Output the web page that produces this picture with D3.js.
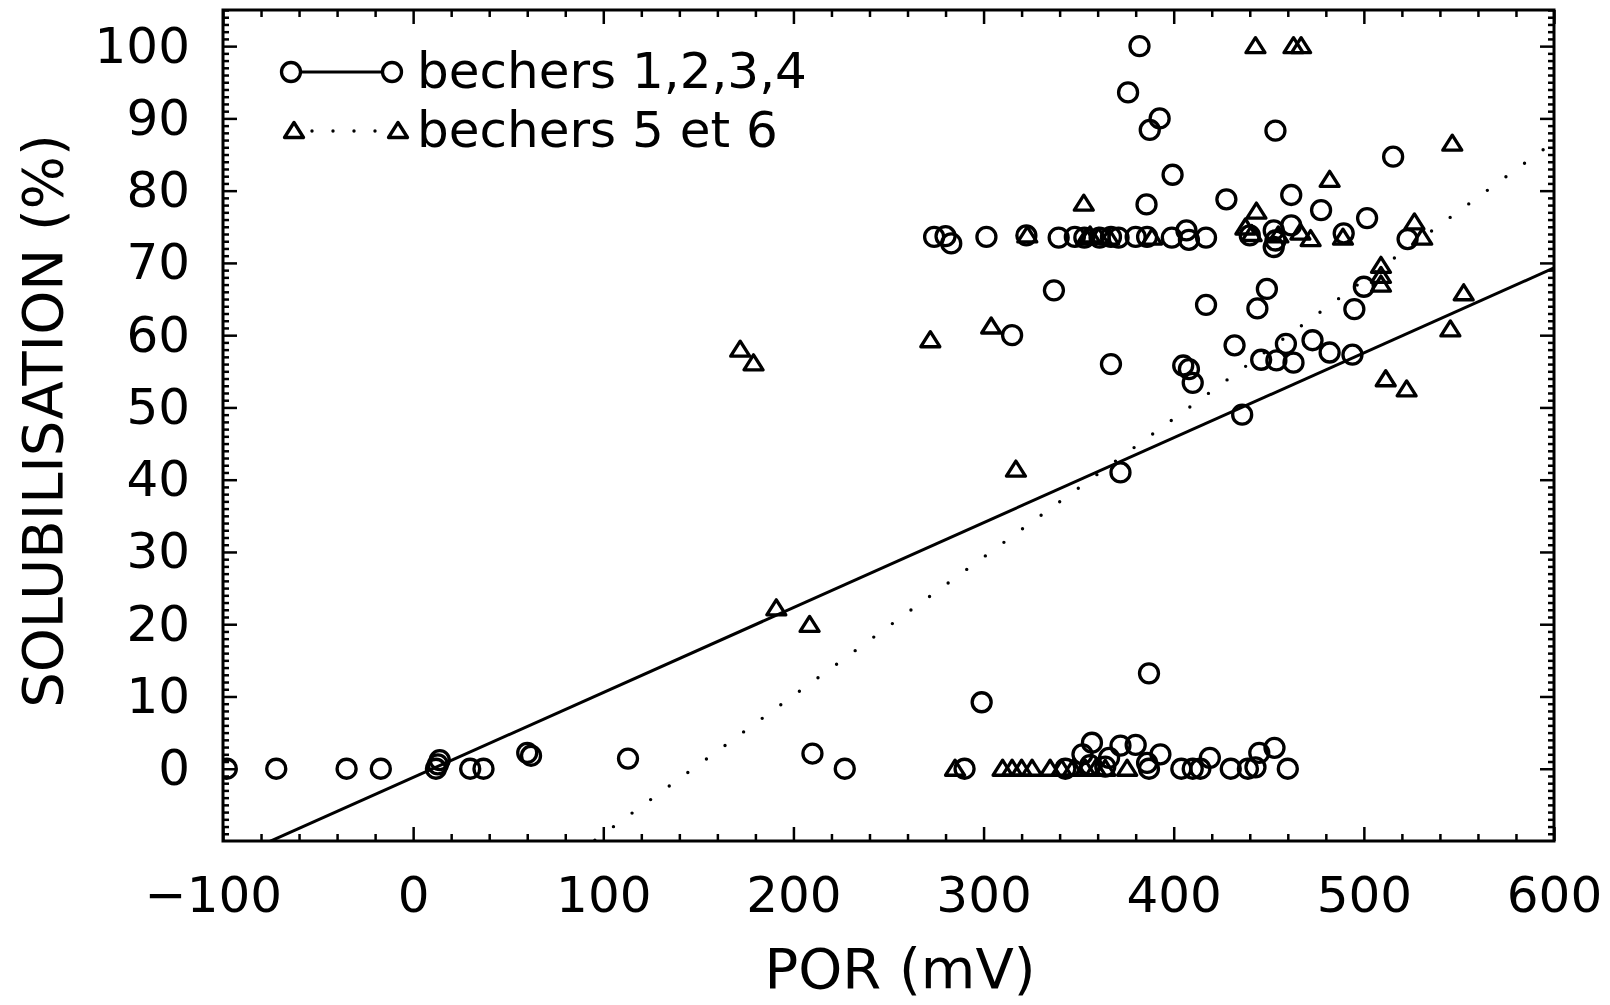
<!DOCTYPE html>
<html>
<head>
<meta charset="utf-8">
<script src="https://cdn.jsdelivr.net/npm/d3@7"></script>
<style>
  html, body { margin: 0; padding: 0; background: #fff; }
  svg { display: block; font-family: "DejaVu Sans", sans-serif; }
</style>
</head>
<body>
<div class="container"></div>
<script>
// bechers 1,2,3,4 (circles) : [POR mV, solubilisation %]
const bechers1234 = [
  [-98, 0], [-72, 0], [-35, 0], [-17, 0], [12, 0], [13, 0.6], [14, 1.2], [30, 0], [37, 0],
  [60, 2.2], [62, 1.8], [113, 1.4], [210, 2.1], [227, 0],
  [290, 0], [299, 9.2], [343, 0], [352, 2], [356, 0.5], [357, 3.6], [364, 0.3], [366, 1.5],
  [372, 3.2], [380, 3.3], [386, 0.8], [387, 13.2], [387, 0], [393, 2], [404, 0], [410, 0],
  [414, 0], [419, 1.5], [430, 0], [439, 0], [443, 0.2], [445, 2.2], [453, 2.9], [460, 0],
  [372, 41], [436, 49], [410, 53.4], [405, 55.8], [408, 55.3], [367, 56], [315, 60],
  [337, 66.2], [417, 64.2], [444, 63.7], [449, 66.4], [432, 58.6], [446, 56.6], [454, 56.5],
  [459, 58.8], [463, 56.2], [473, 59.3], [482, 57.6], [494, 57.3], [495, 63.6], [500, 66.7],
  [274, 73.6], [280, 73.7], [283, 72.7], [301.5, 73.6], [322.5, 73.8], [339.5, 73.5],
  [348, 73.6], [353, 73.5], [361, 73.5], [367, 73.6], [371, 73.5], [380, 73.6], [386, 73.6],
  [399, 73.5], [406.7, 74.5], [408, 73.2], [417, 73.5], [440, 73.8], [452.6, 74.5],
  [453.5, 73.1], [452.6, 72.2], [461.8, 75.2], [489.4, 74.1], [523, 73.3],
  [382, 100], [376, 93.6], [392.6, 90], [387.4, 88.4], [453.5, 88.3], [399.4, 82.2],
  [385.7, 78.1], [427.7, 78.8], [461.8, 79.4], [477.5, 77.3], [501.7, 76.2], [515.4, 84.7]
];
// bechers 5 et 6 (triangles)
const bechers56 = [
  [172, 58], [179, 56.1], [191, 22.2], [208.5, 19.9], [272, 59.3], [304, 61.2], [317, 41.4],
  [285, 0], [310, 0], [315, 0], [320, 0], [325.5, 0], [335, 0], [341, 0], [347, 0],
  [353.5, 0], [359, 0], [364, 0], [375.5, 0],
  [323, 73.8], [352.7, 78.2], [354, 73.5], [356, 73.8], [360.5, 73.6], [366, 73.5],
  [388.6, 73.5], [437.7, 74.9], [441, 74], [443.5, 77.1], [455, 73.8], [466.6, 74.2],
  [472, 73.3], [489, 73.5], [526.6, 75.6], [530.7, 73.5], [482, 81.5], [546.5, 86.5],
  [443, 100], [463, 100], [467, 100], [509, 69.6], [509, 68.2], [509, 67],
  [552.5, 65.8], [545.5, 60.8], [511.5, 53.9], [522.5, 52.5]
];
// regression lines [intercept, slope]
const fit1234 = [-1.2, 0.1175];
const fit56 = [-28.2, 0.1916];

const xTicks = [-100, 0, 100, 200, 300, 400, 500, 600];
const yTicks = [0, 10, 20, 30, 40, 50, 60, 70, 80, 90, 100];
const legendLabels = ["bechers 1,2,3,4", "bechers 5 et 6"];

const WIDTH = 1610, HEIGHT = 1005;
const MARGIN = { top: 10, right: 56, bottom: 164, left: 223 };
const R = 9.5;

const x = d3.scaleLinear().domain([-100, 600]).range([MARGIN.left, WIDTH - MARGIN.right]);
const y = d3.scaleLinear().domain([-10, 105]).range([HEIGHT - MARGIN.bottom, MARGIN.top]);

const svg = d3.select(".container").append("svg")
  .attr("width", WIDTH).attr("height", HEIGHT)
  .attr("viewBox", [0, 0, WIDTH, HEIGHT]);

svg.append("defs").append("clipPath").attr("id", "plot")
  .append("rect")
  .attr("x", x(-100)).attr("y", y(105))
  .attr("width", x(600) - x(-100)).attr("height", y(-10) - y(105));

// symbols
const circlePath = (cx, cy) => `M${cx + R},${cy}A${R},${R} 0 1 1 ${cx - R},${cy}A${R},${R} 0 1 1 ${cx + R},${cy}Z`;
const triPath = (cx, cy) => `M${cx},${cy - 8.5}L${cx + 9.5},${cy + 6.5}L${cx - 9.5},${cy + 6.5}Z`;

// axes
const minorY = d3.range(-10, 106, 1).filter((d) => d % 10 !== 0);
const minorX = d3.range(-100, 601, 20).filter((d) => d % 100 !== 0);

const fmtX = (d) => (d < 0 ? "\u2212" + Math.abs(d) : d);

const axes = svg.append("g")
  .attr("stroke-width", 2.5);

axes.append("g")
  .attr("transform", `translate(${x(-100)},0)`)
  .call(d3.axisLeft(y).tickValues(yTicks).tickSizeInner(-14).tickSizeOuter(0).tickPadding(33));
axes.append("g")
  .attr("transform", `translate(${x(-100)},0)`)
  .call(d3.axisLeft(y).tickValues(minorY).tickSizeInner(-6).tickSizeOuter(0).tickFormat(""));
axes.append("g")
  .attr("transform", `translate(${x(600)},0)`)
  .call(d3.axisRight(y).tickValues(yTicks).tickSizeInner(-14).tickSizeOuter(0).tickFormat(""));
axes.append("g")
  .attr("transform", `translate(${x(600)},0)`)
  .call(d3.axisRight(y).tickValues(minorY).tickSizeInner(-6).tickSizeOuter(0).tickFormat(""));

axes.append("g")
  .attr("transform", `translate(0,${y(-10)})`)
  .call(d3.axisBottom(x).tickValues(xTicks).tickSizeInner(-14).tickSizeOuter(0).tickPadding(35).tickFormat(fmtX));
axes.append("g")
  .attr("transform", `translate(0,${y(-10)})`)
  .call(d3.axisBottom(x).tickValues(minorX).tickSizeInner(-7).tickSizeOuter(0).tickFormat(""));
axes.append("g")
  .attr("transform", `translate(0,${y(105)})`)
  .call(d3.axisTop(x).tickValues(xTicks).tickSizeInner(-14).tickSizeOuter(0).tickFormat(""));
axes.append("g")
  .attr("transform", `translate(0,${y(105)})`)
  .call(d3.axisTop(x).tickValues(minorX).tickSizeInner(-7).tickSizeOuter(0).tickFormat(""));

axes.selectAll(".domain").remove();
axes.selectAll(".tick line").attr("stroke", "#000");
axes.selectAll(".tick text")
  .attr("fill", "#000")
  .attr("font-size", 50)
  .attr("font-family", "DejaVu Sans");
// minus sign hangs left of the digits
axes.selectAll(".tick text").filter((d) => d < 0 && xTicks.includes(d)).attr("dx", "-0.2em");

// frame
svg.append("rect")
  .attr("x", x(-100)).attr("y", y(105))
  .attr("width", x(600) - x(-100)).attr("height", y(-10) - y(105))
  .attr("fill", "none").attr("stroke", "#000").attr("stroke-width", 3);

// regression lines
const plot = svg.append("g").attr("clip-path", "url(#plot)");
const fitLine = (f) => d3.line()([[-100, f[0] + f[1] * -100], [600, f[0] + f[1] * 600]].map((p) => [x(p[0]), y(p[1])]));

plot.append("path")
  .attr("d", fitLine(fit1234))
  .attr("fill", "none").attr("stroke", "#000").attr("stroke-width", 3);
plot.append("path")
  .attr("d", fitLine(fit56))
  .attr("fill", "none").attr("stroke", "#000").attr("stroke-width", 3.4)
  .attr("stroke-linecap", "round").attr("stroke-dasharray", "0 23");

// points
plot.append("g")
  .attr("fill", "none").attr("stroke", "#000").attr("stroke-width", 3.3)
  .selectAll("path")
  .data(bechers1234)
  .join("path")
  .attr("d", (d) => circlePath(x(d[0]), y(d[1])));
plot.append("g")
  .attr("fill", "none").attr("stroke", "#000").attr("stroke-width", 3.3).attr("stroke-linejoin", "round")
  .selectAll("path")
  .data(bechers56)
  .join("path")
  .attr("d", (d) => triPath(x(d[0]), y(d[1])));

// legend
const legend = svg.append("g").attr("fill", "none").attr("stroke", "#000").attr("stroke-width", 3.3);
legend.append("line").attr("x1", 300).attr("x2", 383).attr("y1", 72).attr("y2", 72).attr("stroke-width", 3);
legend.append("path").attr("d", circlePath(291, 72));
legend.append("path").attr("d", circlePath(392, 72));
legend.append("line").attr("x1", 312).attr("x2", 380).attr("y1", 131).attr("y2", 131)
  .attr("stroke-width", 3.4).attr("stroke-linecap", "round").attr("stroke-dasharray", "0 21");
legend.append("path").attr("d", triPath(294, 131)).attr("stroke-linejoin", "round");
legend.append("path").attr("d", triPath(398, 131)).attr("stroke-linejoin", "round");

svg.selectAll(".legend-text")
  .data(legendLabels)
  .join("text")
  .attr("class", "legend-text")
  .attr("x", 417)
  .attr("y", (d, i) => 88 + i * 59)
  .attr("font-size", 50)
  .attr("fill", "#000")
  .text((d) => d);

// axis titles
svg.append("text")
  .attr("x", 900).attr("y", 988)
  .attr("text-anchor", "middle")
  .attr("font-size", 56)
  .attr("fill", "#000")
  .text("POR (mV)");
svg.append("text")
  .attr("transform", "translate(62,421) rotate(-90)")
  .attr("text-anchor", "middle")
  .attr("font-size", 56)
  .attr("fill", "#000")
  .text("SOLUBILISATION (%)");
</script>
</body>
</html>
